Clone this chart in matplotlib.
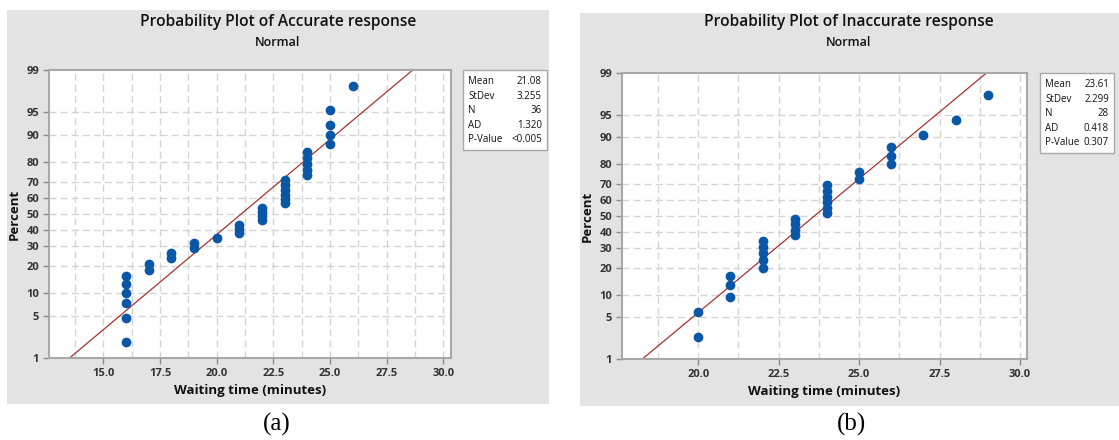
import numpy as np
import matplotlib
matplotlib.use("Agg")
import matplotlib.pyplot as plt
from matplotlib.patches import Rectangle
from statistics import NormalDist

# waiting times (minutes), sorted
accurate_times = [16, 16, 16, 16, 16, 16, 17, 17, 18, 18, 19, 19, 20, 21, 21, 21,
                  22, 22, 22, 22, 23, 23, 23, 23, 23, 23, 24, 24, 24, 24, 24,
                  25, 25, 25, 25, 26]
inaccurate_times = [20, 20, 21, 21, 21, 22, 22, 22, 22, 22, 23, 23, 23, 23,
                    24, 24, 24, 24, 24, 24, 25, 25, 26, 26, 26, 27, 28, 29]

stat_names = ["Mean", "StDev", "N", "AD", "P-Value"]
accurate_stats = ["21.08", "3.255", "36", "1.320", "<0.005"]
inaccurate_stats = ["23.61", "2.299", "28", "0.418", "0.307"]

percent_ticks = [1, 5, 10, 20, 30, 40, 50, 60, 70, 80, 90, 95, 99]

FONT = "Open Sans"
DOT = "#0a57a8"
LINE = "#a83232"
GRID = "#d4d4d4"
PANEL = "#e3e3e3"

_nd = NormalDist()
_ppf = np.vectorize(lambda v: _nd.inv_cdf(v / 100.0), otypes=[float])
_cdf = np.vectorize(lambda v: _nd.cdf(v) * 100.0, otypes=[float])


def _fwd(p):
    p = np.clip(np.asarray(p, dtype=float), 1e-6, 100 - 1e-6)
    return _ppf(p)


def _inv(z):
    return _cdf(np.asarray(z, dtype=float))


def median_ranks(n):
    # minitab default plotting positions
    return [(i - 0.3) / (n + 0.4) * 100 for i in range(1, n + 1)]


def prob_plot(fig, rect, times, stats, xlim, xticks, box):
    ax = fig.add_axes(rect)
    ax.set_zorder(2)
    ax.set_facecolor("white")
    ax.set_yscale("function", functions=(_fwd, _inv))
    ax.set_ylim(1, 99)
    ax.set_xlim(*xlim)

    mean = float(stats[0])
    sd = float(stats[1])
    fit = NormalDist(mean, sd)
    ax.plot([fit.inv_cdf(0.01), fit.inv_cdf(0.99)], [1, 99], color=LINE, lw=0.9, zorder=2)
    ax.plot(times, median_ranks(len(times)), "o", color=DOT, ms=6, mec=DOT, zorder=3)

    # grid: major + minor (every 1.25) on x, percent ticks on y
    gx = np.arange(xticks[0] - 2.5, xticks[-1] + 2.6, 1.25)
    for g in gx:
        if xlim[0] < g < xlim[1]:
            ax.axvline(g, color=GRID, lw=1, ls=(0, (5, 3)), zorder=1)
    for p in percent_ticks[1:-1]:
        ax.axhline(p, color=GRID, lw=1, ls=(0, (5, 3)), zorder=1)

    ax.set_yticks(percent_ticks)
    ax.set_yticklabels([str(p) for p in percent_ticks])
    ax.yaxis.set_minor_locator(matplotlib.ticker.NullLocator())
    ax.set_xticks(xticks)
    ax.set_xticklabels([f"{t:.1f}" for t in xticks])
    ax.tick_params(direction="out", length=4, width=1, color="#8a8a8a",
                   labelsize=8, labelcolor="#333333", pad=3)
    for lab in ax.get_xticklabels() + ax.get_yticklabels():
        lab.set_fontfamily(FONT)
        lab.set_fontweight("bold")
    for s in ax.spines.values():
        s.set_color("#a8a8a8")
        s.set_linewidth(1.5)

    ax.set_xlabel("Waiting time (minutes)", fontfamily=FONT, fontweight="bold",
                  fontsize=9.5, labelpad=4, color="#111111")
    ax.set_ylabel("Percent", fontfamily=FONT, fontweight="bold",
                  fontsize=9.5, labelpad=4, color="#111111")

    # stats box
    bx0, by0, bw, bh = box
    fig.patches.append(Rectangle((bx0, by0), bw, bh, transform=fig.transFigure,
                                 facecolor="white", edgecolor="#a8a8a8", lw=1, zorder=1))
    for k, (name, val) in enumerate(zip(stat_names, stats)):
        y = by0 + bh - (12 + 14.5 * k) / 440
        fig.text(bx0 + 5 / 1119, y, name, fontfamily=FONT, fontsize=7,
                 va="center", ha="left", color="#111111", zorder=2)
        fig.text(bx0 + bw - 5 / 1119, y, val, fontfamily=FONT, fontsize=7,
                 va="center", ha="right", color="#111111", zorder=2)
    return ax


fig = plt.figure(figsize=(11.19, 4.40), dpi=100)
fig.patch.set_facecolor("white")

# grey graph areas
fig.patches.append(Rectangle((7 / 1119, 1 - 404 / 440), 542 / 1119, 394 / 440,
                             transform=fig.transFigure, facecolor=PANEL, edgecolor="none", zorder=-5))
fig.patches.append(Rectangle((580 / 1119, 1 - 406 / 440), 539 / 1119, 393 / 440,
                             transform=fig.transFigure, facecolor=PANEL, edgecolor="none", zorder=-5))

ax1 = prob_plot(fig, [49 / 1119, 1 - 358 / 440, 402 / 1119, 288 / 440],
                accurate_times, accurate_stats, (12.6, 30.34),
                [15.0, 17.5, 20.0, 22.5, 25.0, 27.5, 30.0],
                (463 / 1119, 1 - 150 / 440, 84 / 1119, 80 / 440))
ax2 = prob_plot(fig, [622 / 1119, 1 - 359 / 440, 405 / 1119, 286 / 440],
                inaccurate_times, inaccurate_stats, (17.63, 30.22),
                [20.0, 22.5, 25.0, 27.5, 30.0],
                (1040 / 1119, 1 - 153 / 440, 74 / 1119, 80 / 440))

for cx, name in [(278 / 1119, "Accurate"), (849 / 1119, "Inaccurate")]:
    fig.text(cx, 1 - 22 / 440, f"Probability Plot of {name} response", fontfamily=FONT,
             fontweight="semibold", fontsize=11.2, ha="center", va="center", color="#111111")
    fig.text(cx, 1 - 43 / 440, "Normal", fontfamily=FONT, fontweight="semibold",
             fontsize=9, ha="center", va="center", color="#111111")

fig.text(277 / 1119, 1 - 424 / 440, "(a)", fontfamily="Liberation Serif", fontsize=18,
         ha="center", va="center")
fig.text(852 / 1119, 1 - 424 / 440, "(b)", fontfamily="Liberation Serif", fontsize=18,
         ha="center", va="center")

fig.savefig("out.png", dpi=100, facecolor="white")
